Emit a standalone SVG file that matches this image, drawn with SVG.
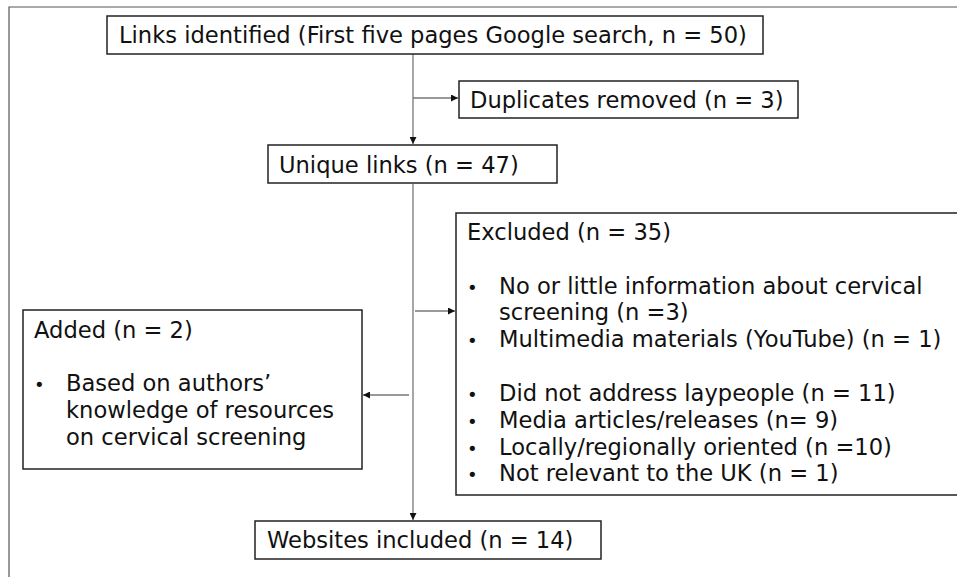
<svg xmlns="http://www.w3.org/2000/svg" width="957" height="577" viewBox="0 0 957 577">
<defs>
<style>
.bg{fill:#ffffff}
.frame{fill:none;stroke:#555;stroke-width:1.2}
.box{fill:#fff;stroke:#222;stroke-width:1.5}
.t{font-family:"DejaVu Sans",Verdana,sans-serif;font-size:22.6px;fill:#111}
.b{font-family:"DejaVu Sans",Verdana,sans-serif;font-size:18px;fill:#111}
.c{fill:none;stroke:#777;stroke-width:1.3}
</style>
<marker id="ah" viewBox="0 0 10 10" refX="10" refY="5" markerWidth="7" markerHeight="7" markerUnits="userSpaceOnUse" orient="auto">
<path d="M0,0 L10,5 L0,10 Z" fill="#111"/>
</marker>
</defs>
<rect class="bg" x="0" y="0" width="957" height="577"/>
<path class="frame" d="M9,577 L9,7 L957,7"/>
<g id="connectors">
<line class="c" x1="413" y1="54" x2="413" y2="144" marker-end="url(#ah)"/>
<line class="c" x1="413" y1="98" x2="458" y2="98" marker-end="url(#ah)"/>
<line class="c" x1="413" y1="184" x2="413" y2="520" marker-end="url(#ah)"/>
<line class="c" x1="415" y1="311" x2="455" y2="311" marker-end="url(#ah)"/>
<line class="c" x1="409" y1="395" x2="363" y2="395" marker-end="url(#ah)"/>
</g>
<g id="links-identified">
<rect class="box" x="107" y="16" width="656" height="38"/>
<text class="t" x="119" y="43">Links identified (First five pages Google search, n = 50)</text>
</g>
<g id="duplicates">
<rect class="box" x="459" y="81" width="339" height="37"/>
<text class="t" x="470" y="108">Duplicates removed (n = 3)</text>
</g>
<g id="unique-links">
<rect class="box" x="268" y="145" width="289" height="38"/>
<text class="t" x="279" y="173">Unique links (n = 47)</text>
</g>
<g id="excluded">
<rect class="box" x="456" y="213" width="510" height="282"/>
<text class="t" x="467" y="240">Excluded (n = 35)</text>
<text class="b" x="467" y="294">•</text>
<text class="t" x="499" y="294">No or little information about cervical</text>
<text class="t" x="499" y="320">screening (n =3)</text>
<text class="b" x="467" y="347">•</text>
<text class="t" x="499" y="347">Multimedia materials (YouTube) (n = 1)</text>
<text class="b" x="467" y="401">•</text>
<text class="t" x="499" y="401">Did not address laypeople (n = 11)</text>
<text class="b" x="467" y="428">•</text>
<text class="t" x="499" y="428">Media articles/releases (n= 9)</text>
<text class="b" x="467" y="455">•</text>
<text class="t" x="499" y="455">Locally/regionally oriented (n =10)</text>
<text class="b" x="467" y="481">•</text>
<text class="t" x="499" y="481">Not relevant to the UK (n = 1)</text>
</g>
<g id="added">
<rect class="box" x="23" y="310" width="339" height="159"/>
<text class="t" x="34" y="338">Added (n = 2)</text>
<text class="b" x="34" y="391">•</text>
<text class="t" x="66" y="391">Based on authors’</text>
<text class="t" x="66" y="418">knowledge of resources</text>
<text class="t" x="66" y="445">on cervical screening</text>
</g>
<g id="websites-included">
<rect class="box" x="255" y="521" width="346" height="38"/>
<text class="t" x="267" y="548">Websites included (n = 14)</text>
</g>
</svg>
